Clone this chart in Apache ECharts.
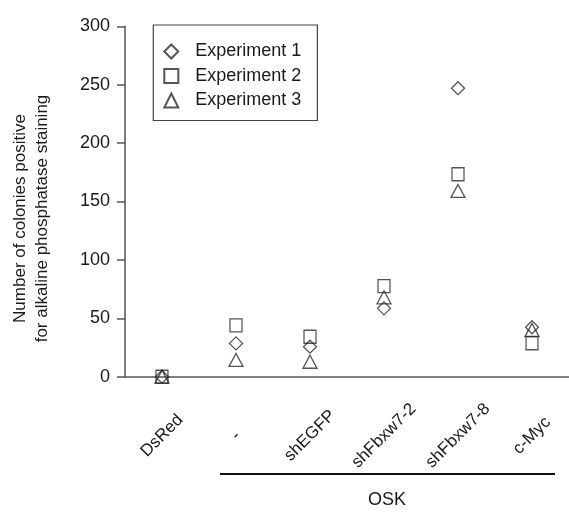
<!DOCTYPE html>
<html>
<head>
<meta charset="utf-8">
<style>
html,body{margin:0;padding:0;background:#fff;}
#chart{width:569px;height:512px;}
</style>
<script src="https://cdn.jsdelivr.net/npm/echarts@6/dist/echarts.min.js"></script>
</head>
<body>
<div id="chart"></div>
<script>
var categories = ['DsRed', '-', 'shEGFP', 'shFbxw7-2', 'shFbxw7-8', 'c-Myc'];
var exp1 = [0, 28.5, 25.7, 58.5, 247, 42.3];
var exp2 = [0, 44, 34.2, 77.6, 173.3, 28.6];
var exp3 = [0, 14.3, 12.8, 68, 159, 40];
var yTicks = [0, 50, 100, 150, 200, 250, 300];
var seriesNames = ['Experiment 1', 'Experiment 2', 'Experiment 3'];

var FONT = '"Liberation Sans", Arial, Helvetica, sans-serif';
var TXT = '#1a1a1a';
var markStyle = { color: 'transparent', borderColor: '#2a2a2a', borderWidth: 1.3 };

var chart = echarts.init(document.getElementById('chart'), null, { renderer: 'canvas' });
chart.setOption({
  animation: false,
  backgroundColor: '#fff',
  textStyle: { fontFamily: FONT },
  grid: { left: 125, top: 26.3, right: -1, bottom: 135.3, containLabel: false },
  legend: {
    orient: 'vertical',
    left: 153.3,
    top: 25,
    itemWidth: 14,
    itemHeight: 14,
    itemGap: 6.5,
    padding: [17.5, 16, 11, 10],
    borderColor: '#444',
    borderWidth: 1.2,
    textStyle: { fontFamily: FONT, fontSize: 18, color: TXT, padding: [0, 0, 0, 12] },
    data: seriesNames
  },
  xAxis: {
    type: 'category',
    data: categories,
    boundaryGap: true,
    axisLine: { lineStyle: { color: '#555', width: 1.5 } },
    axisTick: {
      alignWithLabel: true,
      length: 8,
      interval: function (i) { return i > 0; },
      lineStyle: { color: '#555', width: 1.5 }
    },
    axisLabel: {
      interval: 0,
      rotate: 45,
      align: 'center',
      verticalAlign: 'middle',
      margin: 59,
      fontFamily: FONT,
      fontSize: 17,
      color: TXT
    },
    splitLine: { show: false }
  },
  yAxis: {
    type: 'value',
    min: yTicks[0],
    max: yTicks[yTicks.length - 1],
    interval: 50,
    name: 'Number of colonies positive\nfor alkaline phosphatase staining',
    nameLocation: 'middle',
    nameRotate: 90,
    nameGap: 72,
    nameTextStyle: { fontFamily: FONT, fontSize: 17, color: TXT, lineHeight: 22, padding: [0, 34, 0, 0] },
    axisLine: { show: true, lineStyle: { color: '#555', width: 1.5 } },
    axisTick: { show: true, length: 8, lineStyle: { color: '#555', width: 1.5 } },
    axisLabel: { margin: 15, fontFamily: FONT, fontSize: 18, color: TXT },
    splitLine: { show: false }
  },
  series: [
    { name: seriesNames[0], type: 'scatter', symbol: 'diamond', symbolSize: 13, itemStyle: markStyle, data: exp1, z: 3 },
    { name: seriesNames[1], type: 'scatter', symbol: 'rect', symbolSize: [12, 13], itemStyle: markStyle, data: exp2, z: 2 },
    { name: seriesNames[2], type: 'scatter', symbol: 'triangle', symbolSize: [14, 13], itemStyle: markStyle, data: exp3, z: 2 }
  ],
  graphic: [
    { type: 'line', shape: { x1: 220, y1: 474, x2: 555, y2: 474 }, style: { stroke: '#111', lineWidth: 2 } },
    { type: 'text', x: 387, y: 500, style: { text: 'OSK', fontFamily: FONT, fontSize: 18, fill: TXT, align: 'center', verticalAlign: 'middle' } }
  ]
});
</script>
</body>
</html>
